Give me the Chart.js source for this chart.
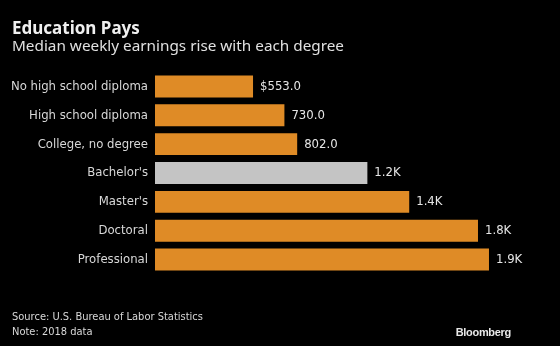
<!DOCTYPE html>
<html>
<head>
<meta charset="utf-8">
<script src="https://cdn.jsdelivr.net/npm/chart.js@4"></script>
<style>
body{margin:0;background:#000;}
#wrap{position:relative;width:560px;height:346px;background:#000;font-family:"Noto Sans",sans-serif;}
#titulo{position:absolute;left:12px;top:16px;color:#f0f0f0;font-size:17px;font-weight:bold;}
#subtitulo{position:absolute;left:12px;top:35px;color:#e0e0e0;font-size:15.3px;}
#fuente{position:absolute;left:12px;top:310px;color:#d8d8d8;font-size:11px;line-height:14.5px;font-family:"DejaVu Sans Condensed",sans-serif;}
#logo{position:absolute;right:49px;top:326px;color:#e8e8e8;font-size:11px;font-weight:bold;font-family:"Liberation Sans",sans-serif;letter-spacing:-0.3px;}
canvas{position:absolute;left:0;top:0;}
</style>
</head>
<body>
<div id="wrap">
<canvas id="grafico" width="560" height="346"></canvas>
<div id="titulo">Education Pays</div>
<div id="subtitulo">Median weekly earnings rise with each degree</div>
<div id="fuente">Source: U.S. Bureau of Labor Statistics<br>Note: 2018 data</div>
<div id="logo">Bloomberg</div>
</div>
<script>
const categorias=["No high school diploma","High school diploma","College, no degree","Bachelor's","Master's","Doctoral","Professional"]
const ganancias=[553,730,802,1198,1434,1822,1884]
const colores=["#df8b26","#df8b26","#df8b26","#c4c4c4","#df8b26","#df8b26","#df8b26"]

function etiqueta(v,i){
if(v>=1000){
return (v/1000).toFixed(1)+"K"
}
return (i===0?"$":"")+v.toFixed(1)
}

// dibuja los valores al final de cada barra
const valoresPlugin={
id:"valores",
afterDatasetsDraw(chart){
const ctx=chart.ctx
const meta=chart.getDatasetMeta(0)
ctx.save()
ctx.fillStyle="#e6e6e6"
ctx.font="13px 'DejaVu Sans Condensed'"
ctx.textBaseline="middle"
ctx.textAlign="left"
meta.data.forEach((bar,i)=>{
ctx.fillText(etiqueta(ganancias[i],i),bar.x+7,bar.y)
})
ctx.restore()
}
}

new Chart(document.getElementById("grafico"),{
type:"bar",
data:{
labels:categorias,
datasets:[{
data:ganancias,
backgroundColor:colores,
barPercentage:0.76,
categoryPercentage:1
}]
},
options:{
indexAxis:"y",
responsive:false,
animation:false,
layout:{padding:{left:0,right:15,top:72,bottom:72}},
plugins:{legend:{display:false},tooltip:{enabled:false}},
scales:{
x:{display:false,min:0,max:2200},
y:{
grid:{display:false,drawTicks:false},
border:{display:false},
ticks:{color:"#d8d8d8",font:{family:"DejaVu Sans Condensed",size:13},padding:7},
afterFit(scale){scale.width=155}
}
}
},
plugins:[valoresPlugin]
})
</script>
</body>
</html>
